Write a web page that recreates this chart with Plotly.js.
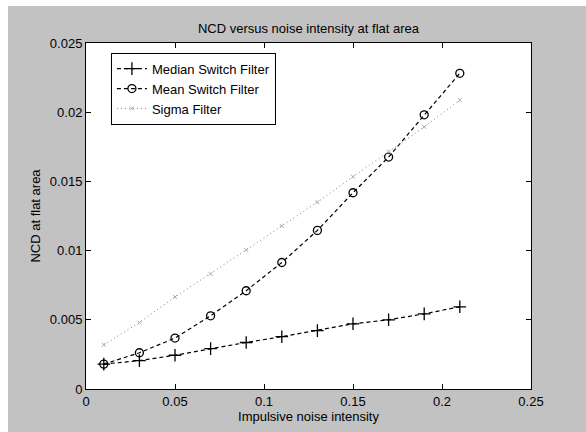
<!DOCTYPE html>
<html>
<head>
<meta charset="utf-8">
<script src="https://cdn.plot.ly/plotly-3.0.1.min.js"></script>
<style>
  html, body { margin: 0; padding: 0; background: #ffffff; width: 586px; height: 432px; overflow: hidden; }
  #chart { position: absolute; left: 8px; top: 6px; width: 578px; height: 426px; }
</style>
</head>
<body>
<div id="chart"></div>
<script>
// Data
const noiseIntensity = [0.01, 0.03, 0.05, 0.07, 0.09, 0.11, 0.13, 0.15, 0.17, 0.19, 0.21];
const medianSwitch = [0.0018, 0.00205, 0.00244, 0.00292, 0.00336, 0.00378, 0.00422, 0.00471, 0.00500, 0.00543, 0.00594];
const meanSwitch   = [0.0018, 0.00262, 0.00368, 0.00529, 0.00710, 0.00914, 0.01146, 0.01418, 0.01676, 0.01981, 0.02281];
const sigmaFilter  = [0.0032, 0.00480, 0.00665, 0.00832, 0.01005, 0.01178, 0.01350, 0.01534, 0.01714, 0.01894, 0.02087];
const seriesNames = ["Median Switch Filter", "Mean Switch Filter", "Sigma Filter"];
const xTickVals = [0, 0.05, 0.1, 0.15, 0.2, 0.25];
const xTickText = ["0", "0.05", "0.1", "0.15", "0.2", "0.25"];
const yTickVals = [0, 0.005, 0.01, 0.015, 0.02, 0.025];
const yTickText = ["0", "0.005", "0.01", "0.015", "0.02", "0.025"];

const font = "Liberation Sans, Arial, sans-serif";

const traces = [
  {
    x: noiseIntensity, y: medianSwitch, name: seriesNames[0],
    mode: "lines+markers", type: "scatter",
    line: { color: "#000", width: 1.2, dash: "4px,3px" },
    marker: { symbol: "cross-thin", size: 9, color: "#000", line: { color: "#000", width: 1.3 } }
  },
  {
    x: noiseIntensity, y: meanSwitch, name: seriesNames[1],
    mode: "lines+markers", type: "scatter",
    line: { color: "#000", width: 1.2, dash: "4px,3px" },
    marker: { symbol: "circle-open", size: 8, color: "#000", line: { color: "#000", width: 1.3 } }
  },
  {
    x: noiseIntensity, y: sigmaFilter, name: seriesNames[2],
    mode: "lines+markers", type: "scatter",
    line: { color: "#808080", width: 1, dash: "1px,3px" },
    marker: { symbol: "x-thin", size: 4, color: "#aaa", line: { color: "#aaa", width: 1 } }
  }
];

const axisCommon = {
  showline: true, linecolor: "#000", linewidth: 1, mirror: "ticks",
  ticks: "inside", ticklen: 5, tickwidth: 1, tickcolor: "#000",
  showgrid: false, zeroline: false,
  tickfont: { family: font, size: 13, color: "#000" }
};

const layout = {
  width: 578, height: 426,
  paper_bgcolor: "#c2c2c2",
  plot_bgcolor: "#ffffff",
  margin: { l: 78, r: 55, t: 37, b: 43 },
  showlegend: true,
  title: {
    text: "NCD versus noise intensity at flat area",
    font: { family: font, size: 13, color: "#000" },
    x: 0.5, xref: "paper", xanchor: "center",
    y: 0.948, yanchor: "middle"
  },
  xaxis: Object.assign({}, axisCommon, {
    range: [0, 0.25], tickvals: xTickVals, ticktext: xTickText,
    title: { text: "Impulsive noise intensity", font: { family: font, size: 13, color: "#000" }, standoff: 2 }
  }),
  yaxis: Object.assign({}, axisCommon, {
    range: [0, 0.025], tickvals: yTickVals, ticktext: yTickText,
    title: { text: "NCD at flat area", font: { family: font, size: 13, color: "#000" }, standoff: 6 }
  }),
  legend: {
    x: 0.056, y: 0.972, xanchor: "left", yanchor: "top",
    bgcolor: "#ffffff", bordercolor: "#000", borderwidth: 1,
    font: { family: font, size: 13, color: "#000" },
    tracegroupgap: 0
  }
};

Plotly.newPlot("chart", traces, layout, { displayModeBar: false, staticPlot: true });
</script>
</body>
</html>
